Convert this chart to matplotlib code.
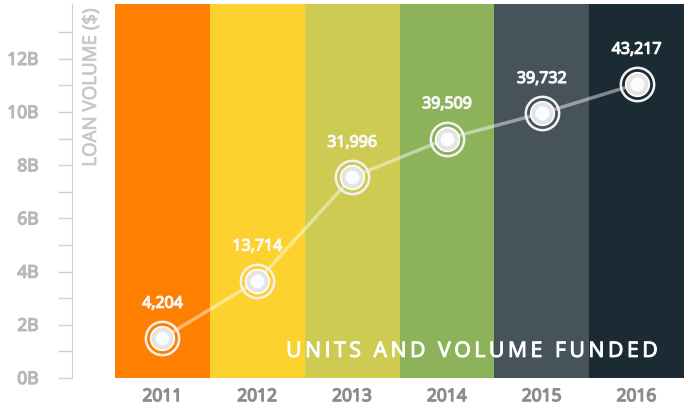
import numpy as np
import matplotlib.pyplot as plt
import matplotlib.patheffects as pe

years = ['2011', '2012', '2013', '2014', '2015', '2016']
volume_b = [1.5, 3.65, 7.55, 9.0, 9.95, 11.05]
units = ['4,204', '13,714', '31,996', '39,509', '39,732', '43,217']
bar_colors = ['#FF8000', '#FDD22E', '#CDCB52', '#8DB35A', '#46535B', '#1B2A33']
ytick_vals = list(range(0, 13, 2))
ytick_labels = ['%dB' % v for v in ytick_vals]
title = 'UNITS AND VOLUME FUNDED'

plt.rcParams['font.family'] = ['Open Sans', 'DejaVu Sans']


def thicken(c, w=0.8):
    # fake a semibold weight with a thin stroke in the text colour
    return [pe.withStroke(linewidth=w, foreground=c)]


fig = plt.figure(figsize=(6.84, 4.10), dpi=100)
ax = fig.add_axes([72 / 684, 31 / 410, 1 - 72 / 684, 374 / 410])

top = 14.06
x = np.arange(len(years))
ax.bar(x, [top] * len(years), width=1.0, color=bar_colors, zorder=1)

ax.plot(x, volume_b, color='white', alpha=0.45, lw=2.5, zorder=2)
ax.plot(x, volume_b, 'o', ms=24, mfc='none', mec='#F2F2F2', mew=1.8, zorder=3)
ax.plot(x, volume_b, 'o', ms=17, mfc='#E4E4E4', mec='white', mew=1.2, zorder=4)
ax.plot(x, volume_b, 'o', ms=10, mfc='white', mec='none', alpha=0.9, zorder=5)

for xi, yi, u in zip(x, volume_b, units):
    ax.annotate(u, (xi, yi), xytext=(0, 19), textcoords='offset points',
                ha='center', va='bottom', color='#F8F8F8', fontsize=11.5,
                path_effects=thicken('#F8F8F8', 0.9), zorder=6)

# letter-spaced title
spaced = '\u2009'.join(title)
ax.text(5.22, 1.0, spaced, ha='right', va='center', color='white',
        fontsize=15.3, path_effects=thicken('white', 0.7), zorder=6)

ax.set_xlim(-0.5 - 0.454, 5.5)
ax.set_ylim(0, top)
ax.set_xticks(x)
ax.set_xticklabels(years, color='#8C8C8C', fontsize=12.5)
ax.set_yticks(ytick_vals)
ax.set_yticks(np.arange(1, 14, 2), minor=True)
ax.set_yticklabels(ytick_labels, color='#B8B8B8', fontsize=12.5)
for lab in ax.get_xticklabels():
    lab.set_path_effects(thicken('#8C8C8C', 1.0))
for lab in ax.get_yticklabels():
    lab.set_path_effects(thicken('#B8B8B8', 1.0))
ax.tick_params(axis='x', length=0, pad=8)
ax.tick_params(axis='y', which='both', length=10, width=1, color='#D0D0D0', pad=14)

for s in ['top', 'right', 'bottom']:
    ax.spines[s].set_visible(False)
ax.spines['left'].set_color('#D0D0D0')

ax.text(-0.5 - 0.454 + 0.2, top - 0.15, 'LOAN VOLUME ($)', rotation=90,
        ha='center', va='top', color='#C8C8C8', fontsize=13.5,
        path_effects=thicken('#C8C8C8', 0.6))

fig.savefig('out.png', dpi=100)
